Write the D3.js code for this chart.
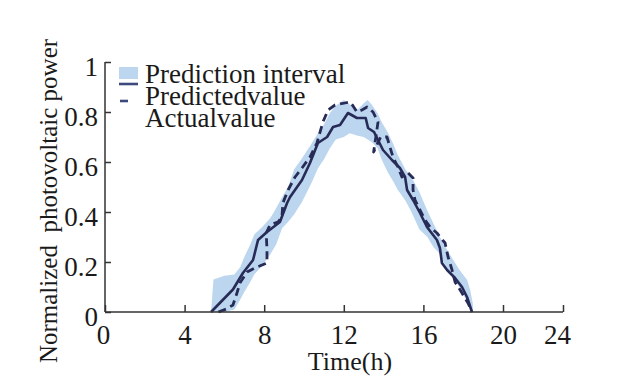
<!DOCTYPE html>
<html lang="en">
<head>
<meta charset="UTF-8">
<title>PV prediction interval</title>
<style>
  body{ margin: 0; background: #ffffff; }
  #canvas{ width: 624px; height: 384px; }
  text{ font-family: "Liberation Serif", "Times New Roman", serif; fill: #1a1a1a; }
  .axis path, .axis line{ stroke: #333333; stroke-width: 1.5; }
  .band{ fill: #bdd6ef; stroke: none; }
  .pred{ fill: none; stroke: #272b57; stroke-width: 2.6; stroke-linejoin: round; }
  .actual{ fill: none; stroke: #272b57; stroke-width: 2.8; stroke-dasharray: 8,5; stroke-linejoin: round; }
</style>
<script src="https://cdn.jsdelivr.net/npm/d3@7/dist/d3.min.js"></script>
</head>
<body>
<div id="canvas"></div>
<script>
//tick labels
var xTicks = [0, 4, 8, 12, 16, 20, 24];
var yTicks = [0, 0.2, 0.4, 0.6, 0.8, 1];

//prediction interval (hours, lower, upper)
var bandHours = [5.33, 5.45, 6.0, 6.5, 6.8, 7.0, 7.3, 7.5, 7.9, 8.3, 8.6, 8.9, 9.2, 9.5, 9.9, 10.4, 10.7, 11.0, 11.3, 11.6,
                 12.0, 12.3, 12.7, 13.0, 13.2, 13.4, 13.7, 13.9, 14.2, 14.5, 14.7, 15.1, 15.4, 15.8, 16.2, 16.5, 16.8, 17.2,
                 17.5, 17.8, 18.2, 18.35, 18.48, 18.5];
var bandUpper = [0, 0.13, 0.145, 0.15, 0.18, 0.22, 0.27, 0.31, 0.34, 0.375, 0.415, 0.46, 0.50, 0.57, 0.615, 0.676, 0.715, 0.75, 0.796, 0.825,
                 0.848, 0.83, 0.81, 0.835, 0.848, 0.83, 0.795, 0.76, 0.72, 0.67, 0.63, 0.57, 0.54, 0.48, 0.405, 0.355, 0.305, 0.248,
                 0.208, 0.17, 0.128, 0.088, 0.036, 0];
var bandLower = [0, 0, 0, 0.01, 0.05, 0.08, 0.12, 0.15, 0.185, 0.23, 0.27, 0.335, 0.36, 0.39, 0.44, 0.52, 0.575, 0.61, 0.655, 0.69,
                 0.70, 0.715, 0.705, 0.70, 0.69, 0.68, 0.655, 0.61, 0.56, 0.52, 0.49, 0.445, 0.40, 0.33, 0.30, 0.26, 0.235, 0.168,
                 0.14, 0.10, 0.04, 0.02, 0.005, 0];

//predicted value
var predHours = [5.33, 6.43, 6.93, 7.44, 7.69, 8.14, 8.79, 9.15, 9.3, 9.9, 10.3, 10.7, 11.16, 11.46, 11.81, 12.21, 12.66, 12.91, 13.1,
                 13.22, 13.52, 13.72, 13.97, 14.42, 14.82, 15.08, 15.18, 15.48, 15.83, 16.18, 16.68, 16.83, 16.93, 17.19, 17.59,
                 17.94, 18.19, 18.44];
var predValues = [0, 0.09, 0.156, 0.208, 0.288, 0.32, 0.36, 0.436, 0.46, 0.528, 0.596, 0.676, 0.70, 0.74, 0.748, 0.796, 0.776, 0.776, 0.776,
                  0.736, 0.72, 0.688, 0.648, 0.608, 0.576, 0.54, 0.488, 0.448, 0.396, 0.34, 0.288, 0.256, 0.196, 0.168, 0.136,
                  0.10, 0.06, 0];

//actual value
var actualHours = [5.7, 6.1, 6.43, 6.63, 6.78, 7.14, 7.64, 8.14, 8.14, 8.1, 8.29, 8.69, 8.89, 8.94, 9.2, 9.55, 9.9, 10.3, 10.65, 10.95,
                   11.21, 11.56, 12.06, 12.3, 12.45, 12.66, 12.91, 13.17, 13.47, 13.72, 13.5, 13.85, 14.17, 14.32, 14.47, 14.72,
                   14.92, 15.23, 15.48, 15.48, 15.58, 15.83, 16.08, 16.33, 16.68, 17.09, 17.24, 17.44, 17.59, 17.94, 18.24, 18.44];
var actualValues = [0, 0.012, 0.028, 0.076, 0.116, 0.16, 0.18, 0.196, 0.25, 0.316, 0.348, 0.36, 0.38, 0.436, 0.488, 0.54, 0.576, 0.62, 0.676, 0.76,
                    0.808, 0.828, 0.836, 0.84, 0.826, 0.80, 0.808, 0.82, 0.80, 0.76, 0.64, 0.70, 0.70, 0.66, 0.62, 0.58,
                    0.54, 0.556, 0.536, 0.488, 0.448, 0.408, 0.368, 0.34, 0.316, 0.276, 0.22, 0.168, 0.12, 0.076, 0.036, 0];

var legendLabels = ["Prediction interval", "Predictedvalue", "Actualvalue"];

//scales
var x = d3.scaleLinear().domain([0, 20, 24]).range([105, 503, 563]);
var y = d3.scaleLinear().domain([0, 1]).range([312, 62]);

var svg = d3.select("#canvas").append("svg")
  .attr("width", 624)
  .attr("height", 384);

//band
var band = bandHours.map(function(h, i) { return {h: h, lo: bandLower[i], hi: bandUpper[i]}; });
svg.append("path")
  .datum(band)
  .attr("class", "band")
  .attr("d", d3.area()
    .x(function(d) { return x(d.h); })
    .y0(function(d) { return y(d.lo); })
    .y1(function(d) { return y(d.hi); }));

//lines
var line = d3.line()
  .x(function(d) { return x(d[0]); })
  .y(function(d) { return y(d[1]); });

svg.append("path")
  .datum(predHours.map(function(h, i) { return [h, predValues[i]]; }))
  .attr("class", "pred")
  .attr("d", line);

svg.append("path")
  .datum(actualHours.map(function(h, i) { return [h, actualValues[i]]; }))
  .attr("class", "actual")
  .attr("d", line);

//axes
var xAxis = d3.axisBottom(x).tickValues(xTicks).tickSizeInner(-7).tickSizeOuter(0).tickPadding(13)
  .tickFormat(function(d) { return d; });
var yAxis = d3.axisLeft(y).tickValues(yTicks).tickSizeInner(-6).tickSizeOuter(0).tickPadding(7)
  .tickFormat(function(d) { return d; });

var gx = svg.append("g").attr("class", "axis").attr("transform", "translate(0,312)").call(xAxis);
gx.select(".domain").attr("d", "M105,0H563");
gx.selectAll("text")
  .attr("font-size", 27)
  .attr("font-family", "Liberation Serif, serif")
  .attr("fill", "#1a1a1a")
  .attr("dx", function(d) { return d === 24 ? -6 : (d === 0 ? -2 : 0); });

var gy = svg.append("g").attr("class", "axis").attr("transform", "translate(105,0)").call(yAxis);
gy.select(".domain").attr("d", "M0,62V312");
gy.selectAll("text")
  .attr("font-size", 27)
  .attr("font-family", "Liberation Serif, serif")
  .attr("fill", "#1a1a1a")
  .attr("dy", "0.5em");

//axis titles
svg.append("text")
  .attr("x", 350)
  .attr("y", 370)
  .attr("text-anchor", "middle")
  .attr("font-size", 26)
  .text("Time(h)");

svg.append("text")
  .attr("transform", "translate(57,201) rotate(-90)")
  .attr("text-anchor", "middle")
  .attr("font-size", 25)
  .style("white-space", "pre")
  .text("Normalized  photovoltaic power");

//legend
svg.append("rect").attr("x", 119).attr("y", 67).attr("width", 19).attr("height", 12).attr("fill", "#bdd6ef");
svg.append("line").attr("x1", 119).attr("x2", 138).attr("y1", 84).attr("y2", 84)
  .attr("stroke", "#3e4a7e").attr("stroke-width", 2.6);
svg.append("line").attr("x1", 120).attr("x2", 128).attr("y1", 101).attr("y2", 101)
  .attr("stroke", "#3e4a7e").attr("stroke-width", 2.6);

svg.selectAll(".legtext")
  .data(legendLabels)
  .enter().append("text")
  .attr("class", "legtext")
  .attr("x", 145)
  .attr("y", function(d, i) { return 83 + i * 22; })
  .attr("font-size", 27)
  .text(function(d) { return d; });
</script>
</head>
</html>
